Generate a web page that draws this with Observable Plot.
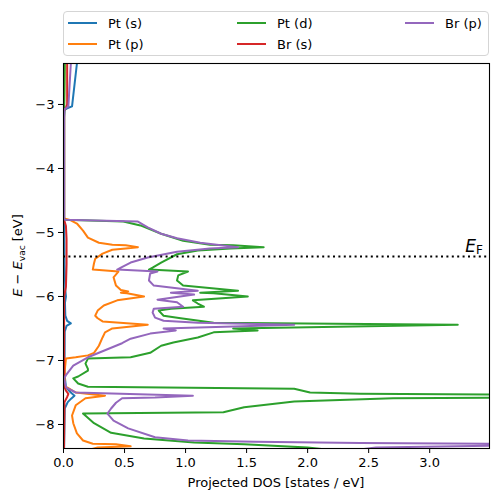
<!DOCTYPE html>
<html><head><meta charset="utf-8">
<script src="https://cdn.jsdelivr.net/npm/d3@7"></script>
<script src="https://cdn.jsdelivr.net/npm/@observablehq/plot@0.6"></script>
<style>
body{margin:0;background:#fff;}
#wrap{position:relative;width:498px;height:502px;font-family:"DejaVu Sans",sans-serif;}
#legend{position:absolute;left:63px;top:11px;width:426px;height:45px;border:1px solid #d5d5d5;border-radius:4px;box-sizing:border-box;background:rgba(255,255,255,0.8);font-size:13px;}
.item{position:absolute;height:16px;display:flex;align-items:center;white-space:nowrap;}
.sw{width:29px;height:2px;margin-right:11px;}
</style></head>
<body><div id="wrap"><div id="legend"></div></div>
<script>
const seriesNames = ["Pt (s)", "Pt (p)", "Pt (d)", "Br (s)", "Br (p)"];
const seriesColors = ["#1f77b4", "#ff7f0e", "#2ca02c", "#d62728", "#9467bd"];

const ptS_E   = [-2.36, -3.03, -3.06, -3.08, -3.2, -4.8, -5.5, -5.9, -6.0, -6.1, -6.3, -6.38, -6.42, -6.46, -6.55, -7.2, -7.42, -7.5, -7.55, -7.6, -7.65, -7.75, -8.38];
const ptS_dos = [0.11, 0.07, 0.03, 0.01, 0.005, 0.005, 0.008, 0.015, 0.02, 0.012, 0.015, 0.03, 0.06, 0.025, 0.01, 0.008, 0.02, 0.06, 0.09, 0.06, 0.035, 0.01, 0.005];

const ptP_E   = [-2.36, -3.1, -4.78, -4.81, -4.86, -4.97, -5.08, -5.16, -5.19, -5.20, -5.23, -5.25, -5.27, -5.33, -5.41, -5.48, -5.58, -5.61, -5.70, -5.83, -5.90, -5.92, -5.94, -5.95, -6.00, -6.06, -6.14, -6.22, -6.30, -6.34, -6.39, -6.44, -6.50, -6.56, -6.64, -6.77, -6.88, -6.92, -6.95, -6.97, -7.16, -7.41, -7.42, -7.50, -7.55, -7.59, -7.70, -7.86, -7.98, -8.14, -8.25, -8.30, -8.31, -8.34, -8.36, -8.39];
const ptP_dos = [0.01, 0.005, 0.005, 0.06, 0.11, 0.16, 0.20, 0.29, 0.40, 0.51, 0.61, 0.51, 0.40, 0.32, 0.26, 0.25, 0.24, 0.45, 0.41, 0.43, 0.47, 0.53, 0.47, 0.52, 0.66, 0.44, 0.33, 0.28, 0.26, 0.28, 0.32, 0.69, 0.40, 0.34, 0.32, 0.29, 0.25, 0.20, 0.10, 0.02, 0.01, 0.01, 0.03, 0.10, 0.34, 0.18, 0.10, 0.07, 0.08, 0.11, 0.16, 0.24, 0.43, 0.55, 0.28, 0.22];

const ptD_E   = [-2.36, -3.1, -4.78, -4.80, -4.83, -4.89, -5.02, -5.13, -5.19, -5.20, -5.23, -5.25, -5.28, -5.34, -5.47, -5.55, -5.58, -5.61, -5.67, -5.75, -5.83, -5.91, -5.94, -5.95, -6.00, -6.06, -6.11, -6.16, -6.19, -6.22, -6.30, -6.34, -6.41, -6.44, -6.50, -6.53, -6.56, -6.64, -6.72, -6.77, -6.88, -6.95, -6.97, -7.05, -7.13, -7.16, -7.25, -7.28, -7.36, -7.41, -7.44, -7.50, -7.52, -7.53, -7.555, -7.58, -7.59, -7.64, -7.73, -7.81, -7.83, -7.98, -8.13, -8.22, -8.28, -8.31, -8.36, -8.39];
const ptD_dos = [0.01, 0.005, 0.005, 0.01, 0.49, 0.63, 0.80, 0.98, 1.20, 1.39, 1.64, 1.37, 1.10, 0.93, 0.80, 0.73, 0.70, 1.02, 0.94, 0.93, 0.98, 1.43, 1.12, 1.23, 1.51, 1.06, 1.10, 1.15, 0.88, 0.78, 0.82, 0.96, 1.23, 3.23, 1.39, 1.59, 1.23, 1.10, 0.90, 0.80, 0.71, 0.55, 0.20, 0.18, 0.20, 0.20, 0.12, 0.08, 0.12, 0.20, 1.89, 2.02, 2.43, 3.50, 4.2, 3.50, 2.70, 1.89, 1.48, 1.31, 0.16, 0.25, 0.39, 0.66, 1.07, 1.48, 2.00, 2.15];

const brS_E   = [-2.36, -3.0, -3.05, -3.1, -4.8, -4.9, -5.1, -5.5, -5.85, -6.0, -7.4, -7.47, -7.52, -7.57, -7.65, -8.38];
const brS_dos = [0.03, 0.03, 0.02, 0.005, 0.005, 0.02, 0.025, 0.025, 0.02, 0.005, 0.005, 0.02, 0.04, 0.03, 0.008, 0.004];

const brP_E   = [-2.36, -3.03, -3.06, -3.08, -4.78, -4.80, -4.83, -4.92, -5.02, -5.09, -5.16, -5.20, -5.23, -5.25, -5.30, -5.39, -5.47, -5.55, -5.58, -5.61, -5.64, -5.75, -5.83, -5.91, -5.94, -5.97, -6.05, -6.09, -6.16, -6.19, -6.25, -6.33, -6.38, -6.41, -6.44, -6.50, -6.53, -6.58, -6.66, -6.73, -6.84, -6.95, -7.08, -7.23, -7.28, -7.42, -7.50, -7.55, -7.58, -7.59, -7.66, -7.75, -7.83, -7.94, -8.06, -8.20, -8.25, -8.27, -8.29, -8.30, -8.32, -8.33, -8.36, -8.39];
const brP_dos = [0.06, 0.04, 0.02, 0.005, 0.005, 0.01, 0.61, 0.69, 0.80, 0.93, 1.12, 1.29, 1.43, 1.20, 0.93, 0.69, 0.55, 0.47, 0.44, 0.77, 0.71, 0.70, 0.74, 1.10, 0.88, 1.07, 0.77, 0.93, 0.98, 0.74, 0.73, 0.75, 0.82, 1.10, 1.89, 0.82, 0.92, 0.71, 0.55, 0.48, 0.34, 0.20, 0.08, 0.02, 0.005, 0.02, 0.10, 1.06, 0.75, 0.48, 0.43, 0.39, 0.36, 0.41, 0.53, 0.75, 1.02, 1.57, 2.43, 3.50, 4.5, 3.50, 2.56, 2.43];

const fermiEnergy = -5.375;
const xTicks = [0, 0.5, 1.0, 1.5, 2.0, 2.5, 3.0];
const yTicks = [-8, -7, -6, -5, -4, -3];
const xDomain = [0, 3.49];
const yDomain = [-8.375, -2.36];

const seriesData = [[ptS_E, ptS_dos], [ptP_E, ptP_dos], [ptD_E, ptD_dos], [brS_E, brS_dos], [brP_E, brP_dos]];
const rows = [];
seriesData.forEach(([E, D], i) => E.forEach((e, j) => rows.push({series: seriesNames[i], energy: e, dos: D[j]})));

const fmtMinus = d => (d < 0 ? "\u2212" + Math.abs(d) : String(d));

const chart = Plot.plot({
  width: 498, height: 502,
  marginLeft: 63, marginRight: 9, marginTop: 63, marginBottom: 54,
  style: {fontFamily: "DejaVu Sans, sans-serif", fontSize: "13px", color: "black", background: "transparent"},
  x: {domain: xDomain, ticks: xTicks, tickFormat: d3.format(".1f"), tickSize: 5, tickPadding: 4, label: null},
  y: {domain: yDomain, ticks: yTicks, tickFormat: fmtMinus, tickSize: 5, tickPadding: 4, label: null},
  color: {domain: seriesNames, range: seriesColors},
  marks: [
    Plot.line(rows, {x: "dos", y: "energy", z: "series", stroke: "series", strokeWidth: 2, clip: true}),
    Plot.ruleY([fermiEnergy], {stroke: "black", strokeWidth: 2, strokeDasharray: "2,3.4"}),
    Plot.frame({stroke: "black", strokeWidth: 1.1})
  ]
});
document.getElementById("wrap").appendChild(chart);

const xs = chart.scale("x"), ys = chart.scale("y");
const svg = d3.select(chart);
// x axis label
svg.append("text").attr("x", (xs.apply(xDomain[0]) + xs.apply(xDomain[1])) / 2).attr("y", 487)
  .attr("text-anchor", "middle").attr("font-size", 13).attr("fill", "black").text("Projected DOS [states / eV]");
// y axis label
const yMid = (ys.apply(yDomain[0]) + ys.apply(yDomain[1])) / 2;
const yl = svg.append("text").attr("transform", `translate(22,${yMid}) rotate(-90)`)
  .attr("text-anchor", "middle").attr("font-size", 13).attr("fill", "black");
yl.append("tspan").attr("font-style", "italic").text("E");
yl.append("tspan").text(" \u2212 ");
yl.append("tspan").attr("font-style", "italic").text("E");
yl.append("tspan").attr("font-size", 9).attr("dy", 3).text("vac");
yl.append("tspan").attr("dy", -3).text(" [eV]");
// Fermi label
const ef = svg.append("text").attr("x", xs.apply(xDomain[1]) - 6).attr("y", ys.apply(fermiEnergy) - 4)
  .attr("text-anchor", "end").attr("fill", "black").attr("font-size", 17);
ef.append("tspan").attr("font-style", "italic").text("E");
ef.append("tspan").attr("font-size", 12).attr("dy", 2).text("F");

// legend
const legend = document.getElementById("legend");
const colLeft = [4, 173, 341];
const rowTop = [3, 24];
seriesNames.forEach((name, i) => {
  const col = Math.floor(i / 2), row = i % 2;
  const it = document.createElement("div");
  it.className = "item";
  it.style.left = colLeft[col] + "px";
  it.style.top = rowTop[row] + "px";
  const sw = document.createElement("span");
  sw.className = "sw"; sw.style.background = seriesColors[i];
  const tx = document.createElement("span");
  tx.textContent = name;
  it.appendChild(sw); it.appendChild(tx);
  legend.appendChild(it);
});
</script></body></html>
